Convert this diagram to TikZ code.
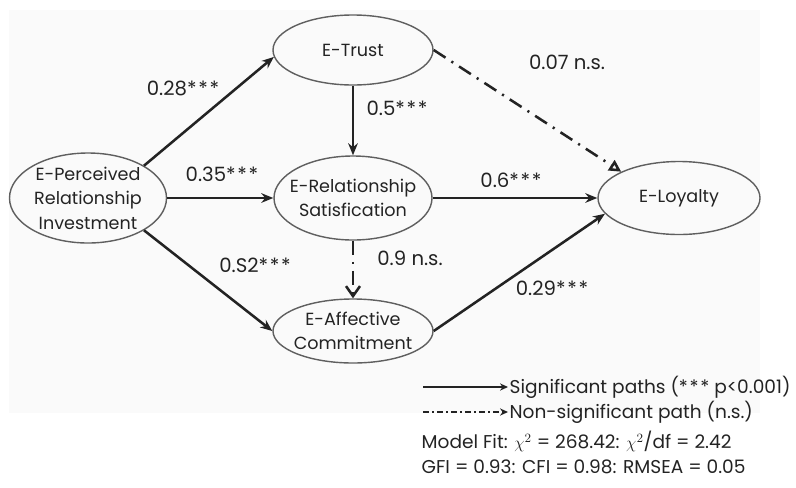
\documentclass[tikz,border=0pt]{standalone}
\usepackage{fontspec}
\setmainfont{Poppins}
\usepackage{amsmath}
\usetikzlibrary{arrows.meta, positioning, shapes.geometric}
\definecolor{pathcolor}{RGB}{35,35,35}
\definecolor{rimcolor}{RGB}{95,95,95}
\definecolor{panelcolor}{RGB}{250,250,250}
\newcommand{\stars}{*\kern1.2pt*\kern1.2pt*}

\tikzset{
    latent/.style={ellipse, draw=rimcolor, line width=1pt, align=center, inner sep=-1cm, text=pathcolor, font=\fontsize{12.5}{17.5}\selectfont},
    sigpath/.style={-{Stealth[length=3mm, width=2.4mm]}, line width=1.8pt, pathcolor},
    nspath/.style={line width=1.8pt, pathcolor, dash pattern=on 10pt off 5pt on 1.5pt off 5pt},
    coef/.style={text=pathcolor, font=\fontsize{14}{17.5}\selectfont},
    keytext/.style={text=pathcolor, anchor=west, inner sep=1pt, font=\fontsize{13.2}{18}\selectfont}
}

\begin{document}
\begin{tikzpicture}
    \useasboundingbox (0,0) rectangle (19.9,-12.175);
    \fill[panelcolor] (0.225,-0.25) rectangle (19.0,-10.325);

    % Latent constructs
    \node[latent, minimum width=4cm, minimum height=1.75cm] (trust) at (8.825,-1.25) {E-Trust};
    \node[latent, minimum width=3.925cm, minimum height=2.25cm] (perc) at (2.2,-4.95) {E-Perceived\\Relationship\\Investment};
    \node[latent, minimum width=3.95cm, minimum height=2.1cm] (sat) at (8.825,-4.95) {E-Relationship\\Satisfication};
    \node[latent, minimum width=4cm, minimum height=1.6cm] (aff) at (8.825,-8.275) {E-Affective\\Commitment};
    \node[latent, minimum width=4.05cm, minimum height=1.825cm] (loy) at (16.975,-4.95) {E-Loyalty};

    % Paths
    \draw[sigpath] (perc.north east) -- (trust.185);
    \draw[sigpath] (perc.east) -- (sat.west);
    \draw[sigpath] (perc.south east) -- (aff.west);
    \draw[sigpath] (trust.south) -- (sat.north);
    \draw[sigpath] (sat.east) -- (loy.west);
    \draw[sigpath] (aff.east) -- (loy.192);
    \draw[nspath, -{Triangle[open, length=3mm, width=3mm]}] (trust.east) -- (loy.north west);
    \draw[nspath, -{Straight Barb[length=2.5mm, width=3.5mm]}] (sat.south) -- (aff.north);

    % Coefficients
    \node[coef] (c1) at (4.575,-2.2) {0.28\stars};
    \node[coef] (c2) at (5.55,-4.35) {0.35\stars};
    \node[coef] (c3) at (6.375,-6.625) {0.S2\stars};
    \node[coef] (c4) at (9.925,-2.7) {0.5\stars};
    \node[coef] (c5) at (10.25,-6.45) {0.9 n.s.};
    \node[coef] (c6) at (14.175,-1.55) {0.07 n.s.};
    \node[coef] (c7) at (12.775,-4.5) {0.6\stars};
    \node[coef] (c8) at (13.8,-7.2) {0.29\stars};

    % Legend
    \node[keytext] (sigtext) at (12.7,-9.675) {Significant paths (\stars{} p<0.001)};
    \node[keytext] (nstext) at (12.7,-10.3) {Non-significant path (n.s.)};
    \coordinate (sigstart) at (10.575,-9.675);
    \coordinate (nsstart) at (10.575,-10.3);
    \draw[-{Stealth[length=2mm, width=1.8mm]}, line width=1pt, pathcolor] (sigstart) -- (sigtext.west);
    \draw[-{Stealth[length=2mm, width=1.8mm]}, line width=1pt, pathcolor, dash pattern=on 4pt off 2.5pt on 1pt off 2.5pt] (nsstart) -- (nstext.west);

    % Model fit
    \node[keytext, align=left] (fit) at (10.5,-11.3125) {Model Fit: $\chi^2$ = 268.42: $\chi^2$/df = 2.42\\GFI = 0.93: CFI = 0.98: RMSEA = 0.05};
\end{tikzpicture}
\end{document}
